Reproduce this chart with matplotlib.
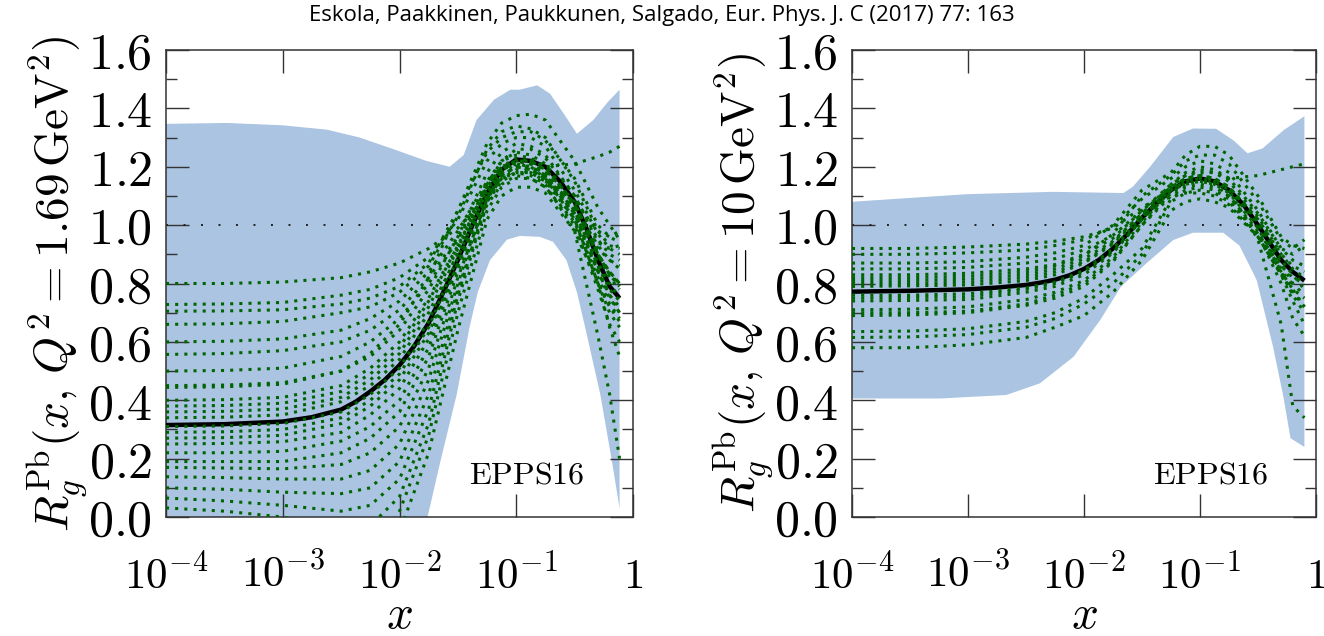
import numpy as np
import matplotlib.pyplot as plt
from matplotlib.ticker import MultipleLocator, NullFormatter, LogLocator

plt.rcParams['mathtext.fontset'] = 'cm'

# ---------------- left panel: Q^2 = 1.69 GeV^2 ----------------
# log10(x) nodes at which the curves were read off
lx_left = [-4, -3.5, -3, -2.5, -2.25, -2, -1.75, -1.5, -1.25, -1.125, -1, -0.875, -0.75,
           -0.5, -0.3, -0.2, -0.115]

lx_central_left = [-4, -3.5, -3, -2.75, -2.5, -2.375, -2.25, -2.125, -2, -1.875, -1.75, -1.625,
                   -1.5, -1.375, -1.25, -1.125, -1, -0.875, -0.75, -0.625, -0.5, -0.4, -0.3,
                   -0.2, -0.115]
central_left = [0.315, 0.318, 0.327, 0.342, 0.368, 0.395, 0.43, 0.47, 0.52, 0.585, 0.665, 0.77,
                 0.88, 1.00, 1.11, 1.19, 1.225, 1.22, 1.20, 1.15, 1.08, 0.99, 0.88, 0.79, 0.75]

err_left = [
    [0.80, 0.80, 0.805, 0.82, 0.84, 0.87, 0.92, 0.99, 1.10, 1.16, 1.18, 1.18, 1.15, 1.04, 0.90, 0.84, 0.80],
    [0.728, 0.73, 0.735, 0.76, 0.78, 0.82, 0.89, 1.02, 1.22, 1.28, 1.30, 1.30, 1.27, 1.12, 0.97, 0.92, 0.90],
    [0.705, 0.706, 0.71, 0.73, 0.75, 0.79, 0.87, 1.05, 1.28, 1.35, 1.375, 1.38, 1.36, 1.22, 1.06, 1.00, 0.95],
    [0.66, 0.662, 0.67, 0.70, 0.72, 0.77, 0.86, 1.03, 1.26, 1.32, 1.34, 1.33, 1.30, 1.15, 0.98, 0.93, 0.92],
    [0.60, 0.602, 0.61, 0.64, 0.68, 0.74, 0.84, 0.98, 1.15, 1.20, 1.22, 1.22, 1.20, 1.21, 1.235, 1.25, 1.27],
    [0.557, 0.56, 0.57, 0.60, 0.64, 0.71, 0.82, 0.96, 1.14, 1.20, 1.22, 1.21, 1.17, 1.04, 0.85, 0.76, 0.70],
    [0.50, 0.502, 0.51, 0.55, 0.60, 0.68, 0.80, 0.95, 1.13, 1.19, 1.21, 1.20, 1.16, 1.02, 0.80, 0.70, 0.65],
    [0.45, 0.452, 0.46, 0.50, 0.56, 0.66, 0.82, 1.05, 1.25, 1.30, 1.32, 1.32, 1.29, 1.16, 1.00, 0.96, 0.94],
    [0.444, 0.446, 0.455, 0.50, 0.55, 0.64, 0.78, 0.96, 1.18, 1.25, 1.28, 1.27, 1.24, 1.10, 0.95, 0.90, 0.88],
    [0.40, 0.402, 0.41, 0.45, 0.51, 0.60, 0.75, 0.93, 1.13, 1.20, 1.23, 1.22, 1.19, 1.06, 0.90, 0.84, 0.80],
    [0.38, 0.382, 0.39, 0.43, 0.49, 0.58, 0.74, 0.93, 1.10, 1.16, 1.18, 1.18, 1.15, 1.08, 0.98, 0.96, 0.98],
    [0.36, 0.362, 0.37, 0.41, 0.47, 0.56, 0.72, 0.92, 1.14, 1.22, 1.25, 1.24, 1.21, 1.07, 0.92, 0.88, 0.85],
    [0.34, 0.342, 0.35, 0.395, 0.45, 0.54, 0.70, 0.90, 1.10, 1.17, 1.20, 1.20, 1.17, 1.05, 0.86, 0.78, 0.74],
    [0.31, 0.312, 0.32, 0.36, 0.42, 0.51, 0.67, 0.91, 1.15, 1.22, 1.24, 1.23, 1.20, 1.07, 0.90, 0.83, 0.79],
    [0.29, 0.292, 0.30, 0.34, 0.40, 0.49, 0.65, 0.89, 1.12, 1.19, 1.22, 1.22, 1.19, 1.08, 0.90, 0.82, 0.78],
    [0.27, 0.272, 0.28, 0.32, 0.38, 0.47, 0.63, 0.87, 1.09, 1.17, 1.20, 1.19, 1.16, 1.04, 0.84, 0.75, 0.70],
    [0.25, 0.252, 0.258, 0.29, 0.35, 0.44, 0.61, 0.87, 1.13, 1.22, 1.26, 1.26, 1.23, 1.10, 0.94, 0.92, 0.93],
    [0.22, 0.22, 0.225, 0.26, 0.31, 0.40, 0.58, 0.86, 1.11, 1.19, 1.22, 1.21, 1.18, 1.06, 0.93, 0.88, 0.86],
    [0.19, 0.19, 0.19, 0.22, 0.27, 0.36, 0.55, 0.84, 1.08, 1.15, 1.18, 1.17, 1.14, 0.98, 0.62, 0.42, 0.20],
    [0.17, 0.168, 0.165, 0.18, 0.22, 0.31, 0.51, 0.82, 1.09, 1.16, 1.19, 1.18, 1.15, 1.02, 0.80, 0.65, 0.55],
    [0.138, 0.135, 0.13, 0.13, 0.16, 0.25, 0.47, 0.80, 1.10, 1.19, 1.22, 1.21, 1.18, 1.07, 0.90, 0.83, 0.80],
    [0.10, 0.095, 0.085, 0.08, 0.10, 0.19, 0.42, 0.78, 1.07, 1.14, 1.17, 1.16, 1.13, 1.00, 0.78, 0.66, 0.60],
    [0.065, 0.055, 0.04, 0.02, 0.04, 0.13, 0.37, 0.76, 1.09, 1.18, 1.21, 1.20, 1.17, 1.05, 0.87, 0.80, 0.75],
    [0.031, 0.02, 0.0, -0.05, -0.03, 0.07, 0.32, 0.74, 1.08, 1.17, 1.20, 1.19, 1.16, 1.03, 0.84, 0.76, 0.72],
    [-0.30, -0.35, -0.40, -0.35, -0.15, 0.02, 0.28, 0.70, 1.05, 1.13, 1.16, 1.16, 1.13, 1.01, 0.82, 0.73, 0.68],
    [-0.50, -0.55, -0.60, -0.50, -0.30, -0.05, 0.22, 0.64, 1.02, 1.10, 1.13, 1.13, 1.11, 0.98, 0.80, 0.72, 0.67],
]

# uncertainty band edges (log10 x, value)
band_up_lx_left = [-4, -3.48, -3, -2.62, -2.34, -2.05, -1.77, -1.57, -1.45, -1.34, -1.19, -1.05,
                   -0.97, -0.82, -0.71, -0.59, -0.48, -0.34, -0.22, -0.115]
band_up_left = [1.347, 1.35, 1.342, 1.327, 1.30, 1.26, 1.22, 1.20, 1.24, 1.36, 1.43, 1.464,
                1.464, 1.479, 1.45, 1.38, 1.313, 1.36, 1.42, 1.464]
band_lo_lx_left = [-4, -2.5, -2.0, -1.76, -1.65, -1.51, -1.40, -1.33, -1.225, -1.08, -0.97, -0.80,
                   -0.685, -0.57, -0.48, -0.41, -0.28, -0.18, -0.115]
band_lo_left = [-0.6, -0.6, -0.45, 0.0, 0.19, 0.42, 0.65, 0.77, 0.88, 0.95, 0.963, 0.96,
                0.943, 0.88, 0.77, 0.65, 0.42, 0.19, 0.03]

# ---------------- right panel: Q^2 = 10 GeV^2 ----------------
lx_right = [-4, -3.5, -3, -2.5, -2.25, -2, -1.75, -1.5, -1.25, -1.125, -1, -0.875, -0.75,
            -0.5, -0.3, -0.2, -0.1]

lx_central_right = [-4, -3.5, -3, -2.75, -2.5, -2.375, -2.25, -2.125, -2, -1.875, -1.75, -1.625,
                    -1.5, -1.375, -1.25, -1.125, -1, -0.875, -0.75, -0.625, -0.5, -0.4, -0.3,
                    -0.2, -0.1]
central_right = [0.772, 0.775, 0.78, 0.786, 0.795, 0.803, 0.813, 0.828, 0.85, 0.88, 0.92, 0.97,
                 1.025, 1.075, 1.12, 1.15, 1.16, 1.15, 1.12, 1.07, 1.00, 0.94, 0.88, 0.84, 0.81]

err_right = [
    [0.92, 0.92, 0.925, 0.935, 0.945, 0.96, 0.99, 1.06, 1.12, 1.14, 1.15, 1.14, 1.10, 0.97, 0.86, 0.82, 0.80],
    [0.90, 0.90, 0.905, 0.915, 0.93, 0.95, 0.995, 1.09, 1.16, 1.20, 1.22, 1.21, 1.18, 1.05, 0.92, 0.88, 0.86],
    [0.87, 0.87, 0.875, 0.89, 0.905, 0.93, 1.00, 1.12, 1.18, 1.24, 1.27, 1.27, 1.24, 1.10, 0.96, 0.93, 0.92],
    [0.85, 0.85, 0.855, 0.87, 0.885, 0.915, 0.965, 1.05, 1.14, 1.17, 1.18, 1.18, 1.16, 1.17, 1.19, 1.20, 1.21],
    [0.83, 0.83, 0.835, 0.85, 0.865, 0.90, 0.955, 1.05, 1.13, 1.16, 1.17, 1.16, 1.13, 1.02, 0.90, 0.86, 0.84],
    [0.82, 0.82, 0.825, 0.84, 0.86, 0.895, 0.97, 1.10, 1.17, 1.22, 1.24, 1.24, 1.21, 1.08, 0.95, 0.92, 0.95],
    [0.81, 0.81, 0.815, 0.83, 0.85, 0.885, 0.945, 1.04, 1.14, 1.18, 1.20, 1.19, 1.16, 1.04, 0.92, 0.90, 0.93],
    [0.80, 0.80, 0.805, 0.82, 0.84, 0.875, 0.94, 1.04, 1.10, 1.11, 1.11, 1.10, 1.07, 0.96, 0.83, 0.80, 0.83],
    [0.79, 0.792, 0.795, 0.81, 0.83, 0.87, 0.935, 1.03, 1.12, 1.15, 1.16, 1.15, 1.12, 1.00, 0.85, 0.78, 0.72],
    [0.76, 0.76, 0.765, 0.785, 0.805, 0.845, 0.92, 1.03, 1.13, 1.16, 1.17, 1.16, 1.13, 1.02, 0.88, 0.83, 0.78],
    [0.75, 0.752, 0.755, 0.78, 0.80, 0.84, 0.91, 1.02, 1.11, 1.14, 1.15, 1.14, 1.11, 0.99, 0.84, 0.76, 0.70],
    [0.74, 0.742, 0.745, 0.77, 0.79, 0.83, 0.905, 1.02, 1.13, 1.17, 1.19, 1.18, 1.15, 1.03, 0.90, 0.85, 0.82],
    [0.71, 0.712, 0.72, 0.745, 0.77, 0.81, 0.89, 1.01, 1.12, 1.16, 1.17, 1.16, 1.13, 1.01, 0.87, 0.80, 0.76],
    [0.70, 0.70, 0.705, 0.73, 0.76, 0.80, 0.88, 1.00, 1.11, 1.15, 1.16, 1.15, 1.12, 0.95, 0.66, 0.38, 0.34],
    [0.69, 0.692, 0.70, 0.725, 0.75, 0.79, 0.875, 1.00, 1.10, 1.13, 1.14, 1.13, 1.10, 0.98, 0.83, 0.74, 0.66],
    [0.635, 0.637, 0.645, 0.67, 0.70, 0.75, 0.83, 0.92, 1.09, 1.12, 1.13, 1.12, 1.09, 0.97, 0.80, 0.68, 0.62],
    [0.615, 0.617, 0.625, 0.65, 0.68, 0.73, 0.80, 0.90, 1.08, 1.11, 1.12, 1.11, 1.08, 0.97, 0.84, 0.78, 0.75],
    [0.58, 0.58, 0.59, 0.615, 0.65, 0.69, 0.77, 0.88, 1.05, 1.08, 1.09, 1.08, 1.06, 0.96, 0.83, 0.77, 0.72],
]

band_up_lx_right = [-4, -3.01, -2.27, -1.66, -1.58, -1.43, -1.23, -1.06, -0.86, -0.71, -0.59,
                    -0.46, -0.28, -0.1]
band_up_right = [1.08, 1.106, 1.114, 1.11, 1.131, 1.20, 1.302, 1.331, 1.33, 1.29, 1.246,
                 1.263, 1.325, 1.373]
band_lo_lx_right = [-4, -3.24, -2.67, -2.38, -2.09, -1.86, -1.68, -1.46, -1.23, -1.06, -0.80,
                    -0.66, -0.54, -0.51, -0.37, -0.28, -0.22, -0.1]
band_lo_right = [0.406, 0.406, 0.418, 0.458, 0.549, 0.675, 0.79, 0.87, 0.949, 0.974, 0.974,
                 0.93, 0.835, 0.81, 0.583, 0.41, 0.27, 0.24]

title = 'Eskola, Paakkinen, Paukkunen, Salgado, Eur. Phys. J. C (2017) 77: 163'
ylabels = [r'$R_g^{\rm Pb}(x,\,Q^2=1.69\,{\rm GeV}^2)$', r'$R_g^{\rm Pb}(x,\,Q^2=10\,{\rm GeV}^2)$']
xtick_vals = [1e-4, 1e-3, 1e-2, 1e-1, 1]
xtick_labels = [r'$10^{-4}$', r'$10^{-3}$', r'$10^{-2}$', r'$10^{-1}$', r'$1$']

band_color = '#aac4e2'
green = '#006400'
axis_color = '#333333'


def draw_panel(ax, lx, lxc, central, errs, up_lx, up, lo_lx, lo, ylabel):
    x = 10.0 ** np.array(lx)
    xc = 10.0 ** np.array(lxc)
    # uncertainty band as one polygon
    bx = np.concatenate([10.0 ** np.array(up_lx), 10.0 ** np.array(lo_lx)[::-1]])
    by = np.concatenate([up, lo[::-1]])
    ax.fill(bx, by, color=band_color, lw=0, zorder=1)
    ax.plot([1e-4, x[-1]], [1, 1], color='#222222', lw=1.4, dashes=(1.0, 8.0), zorder=2)
    ax.plot(xc, central, color='black', lw=3.2, solid_capstyle='butt', zorder=3)
    for e in errs:
        ax.plot(x, e, color=green, lw=2.2, dashes=(1.0, 2.0), zorder=4)

    ax.set_xscale('log')
    ax.set_xlim(1e-4, 1)
    ax.set_ylim(0, 1.6)
    ax.set_xticks(xtick_vals, labels=xtick_labels)
    ax.xaxis.set_minor_locator(LogLocator(base=10, subs=np.arange(2, 10)))
    ax.xaxis.set_minor_formatter(NullFormatter())
    yt = np.arange(0, 1.61, 0.2)
    ax.set_yticks(yt, labels=['$%.1f$' % v for v in yt])
    ax.yaxis.set_minor_locator(MultipleLocator(0.1))
    ax.tick_params(which='both', direction='in', top=True, right=True,
                   color=axis_color, width=1.0)
    ax.tick_params(which='major', length=16.5)
    ax.tick_params(which='minor', length=8)
    ax.tick_params(axis='x', pad=27, labelsize=31)
    ax.tick_params(axis='y', pad=10, labelsize=36)
    for s in ax.spines.values():
        s.set_color(axis_color)
        s.set_linewidth(1.1)
    ax.set_xlabel('$x$', fontsize=34)
    ax.xaxis.set_label_coords(0.5, -0.163)
    ax.set_ylabel(ylabel, fontsize=34)
    # same offset (~75 px) left of the frame in both panels
    ax.yaxis.set_label_coords(-75 / ax.bbox.width, 0.5)
    ax.text(0.773, 0.09, r'$\mathrm{EPPS16}$', transform=ax.transAxes,
            ha='center', va='center', fontsize=23)


fig = plt.figure(figsize=(13.24, 6.36), dpi=100)
ax1 = fig.add_axes([166 / 1324, 119 / 636, 467 / 1324, 467 / 636])
ax2 = fig.add_axes([852 / 1324, 119 / 636, 464 / 1324, 467 / 636])

draw_panel(ax1, lx_left, lx_central_left, central_left, err_left, band_up_lx_left, band_up_left,
           band_lo_lx_left, band_lo_left, ylabels[0])
draw_panel(ax2, lx_right, lx_central_right, central_right, err_right, band_up_lx_right,
           band_up_right, band_lo_lx_right, band_lo_right, ylabels[1])

fig.text(0.5, 1 - 15 / 636, title, ha='center', va='center', fontsize=16,
         family=['Open Sans', 'DejaVu Sans'])

fig.savefig('out.png', dpi=100)
